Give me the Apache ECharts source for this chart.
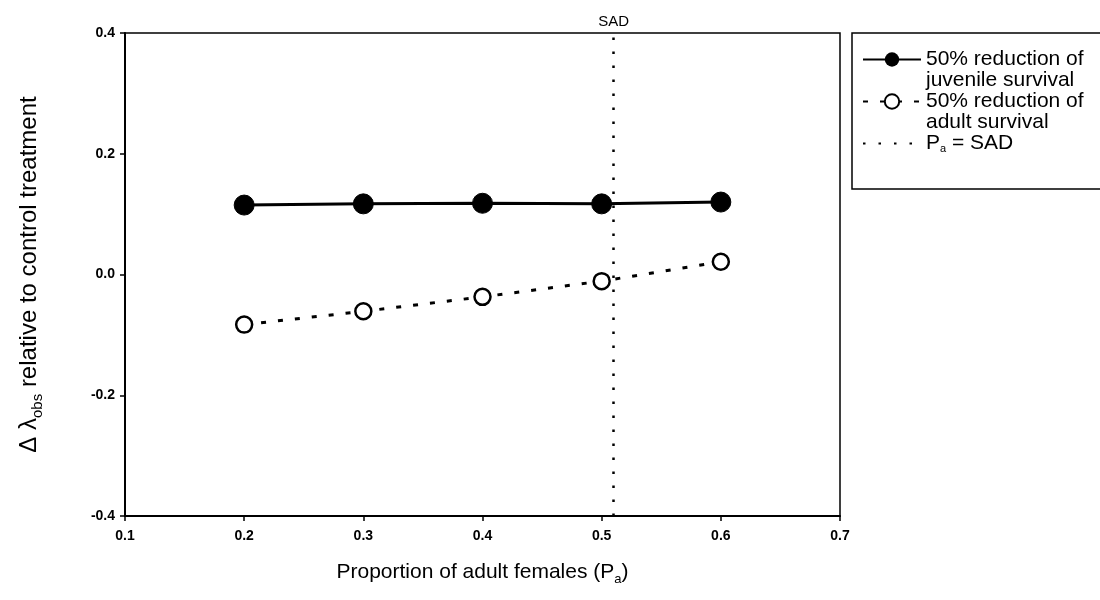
<!DOCTYPE html>
<html>
<head>
<meta charset="utf-8">
<script src="https://cdn.jsdelivr.net/npm/echarts@6/dist/echarts.min.js"></script>
<style>
  body { margin: 0; background: #fff; }
  #chart { width: 1100px; height: 600px; }
</style>
</head>
<body>
<div id="chart"></div>
<script>
// proportion of adult females
var propAdult = [0.2, 0.3, 0.4, 0.5, 0.6];
// change in lambda vs control
var juvenileCut = [0.115, 0.117, 0.118, 0.117, 0.12];
var adultCut = [-0.083, -0.061, -0.037, -0.011, 0.021];
// stable age distribution
var sadValue = 0.506;

var nameJuv = '50% reduction of\njuvenile survival';
var nameAdult = '50% reduction of\nadult survival';
var nameSad = 'Pa = SAD';

var font = 'Arial, "Liberation Sans", sans-serif';

function pairs(xs, ys) {
    return xs.map(function (x, i) { return [x, ys[i]]; });
}

var myChart = echarts.init(document.getElementById('chart'));
var option = {
    animation: false,
    backgroundColor: '#fff',
    grid: {
        left: 125,
        right: 260,
        top: 33,
        bottom: 84,
        show: true,
        borderColor: '#000',
        borderWidth: 1.5,
        backgroundColor: 'transparent'
    },
    legend: {
        left: 852,
        top: 33,
        orient: 'vertical',
        data: [nameJuv, nameAdult, { name: nameSad, itemStyle: { opacity: 0 } }],
        borderColor: '#000',
        borderWidth: 1.5,
        padding: [-5, 40, 14, 10],
        itemWidth: 58,
        itemHeight: 18,
        itemGap: -21,
        formatter: function (n) {
            return n === nameSad ? 'P{sub|a} = SAD\n ' : n;
        },
        textStyle: {
            fontFamily: font,
            fontSize: 21,
            lineHeight: 21,
            padding: [21, 0, 0, 0],
            color: '#000',
            rich: {
                sub: { fontFamily: font, fontSize: 11, verticalAlign: 'bottom', padding: [9, 0, 0, 0], color: '#000' }
            }
        }
    },
    xAxis: {
        type: 'value',
        min: 0.1,
        max: 0.7,
        interval: 0.1,
        name: 'Proportion of adult females (P{sub|a})',
        nameLocation: 'middle',
        nameGap: 42,
        nameTextStyle: {
            fontFamily: font,
            fontSize: 21,
            color: '#000',
            rich: {
                sub: { fontFamily: font, fontSize: 13, verticalAlign: 'bottom', padding: [15, 0, 0, 0], color: '#000' }
            }
        },
        axisLine: { onZero: false, lineStyle: { color: '#000', width: 2 } },
        axisTick: { length: 5, lineStyle: { color: '#000', width: 1.5 } },
        axisLabel: {
            margin: 13,
            fontFamily: font,
            fontWeight: 'bold',
            fontSize: 14,
            color: '#000',
            formatter: function (v) { return v.toFixed(1); }
        },
        splitLine: { show: false }
    },
    yAxis: {
        type: 'value',
        min: -0.4,
        max: 0.4,
        interval: 0.2,
        name: '\u0394 \u03bb{sub|obs} relative to control treatment',
        nameLocation: 'middle',
        nameRotate: 90,
        nameGap: 80,
        nameTextStyle: {
            fontFamily: font,
            fontSize: 24,
            color: '#000',
            rich: {
                sub: { fontFamily: font, fontSize: 15, verticalAlign: 'bottom', padding: [16, 0, 0, 0], color: '#000' }
            }
        },
        axisLine: { onZero: false, lineStyle: { color: '#000', width: 2 } },
        axisTick: { length: 5, lineStyle: { color: '#000', width: 1.5 } },
        axisLabel: {
            margin: 10,
            fontFamily: font,
            fontWeight: 'bold',
            fontSize: 14,
            color: '#000',
            formatter: function (v) { return v.toFixed(1); }
        },
        splitLine: { show: false }
    },
    series: [
        {
            name: nameJuv,
            type: 'line',
            data: pairs(propAdult, juvenileCut),
            symbol: 'circle',
            symbolSize: 20,
            lineStyle: { color: '#000', width: 3 },
            itemStyle: { color: '#000', borderColor: '#000' },
            z: 3
        },
        {
            name: nameAdult,
            type: 'line',
            data: pairs(propAdult, adultCut),
            symbol: 'circle',
            symbolSize: 16,
            lineStyle: { color: '#000', width: 3, type: [5, 12] },
            itemStyle: { color: '#fff', borderColor: '#000', borderWidth: 2.5 },
            z: 3
        },
        {
            name: nameSad,
            type: 'line',
            data: [],
            symbol: 'none',
            lineStyle: { color: '#000', width: 2.5, type: [2.5, 13] },
            itemStyle: { color: '#000' },
            markLine: {
                silent: true,
                symbol: 'none',
                lineStyle: { color: '#000', width: 2.5, type: [2.5, 11.5] },
                label: {
                    show: true,
                    position: 'end',
                    formatter: 'SAD',
                    fontFamily: font,
                    fontSize: 15,
                    color: '#000',
                    distance: 4
                },
                data: [{ xAxis: sadValue }]
            }
        }
    ]
};
myChart.setOption(option);
</script>
</body>
</html>
